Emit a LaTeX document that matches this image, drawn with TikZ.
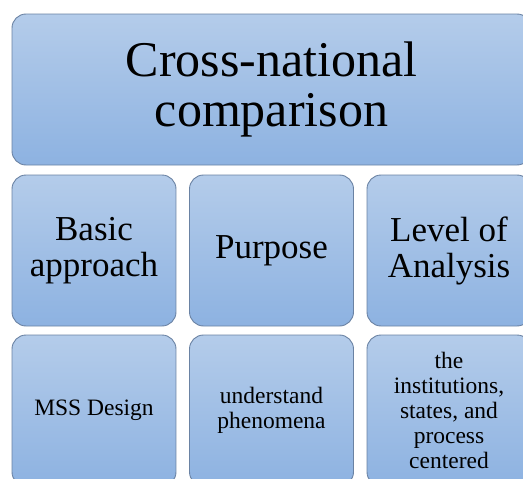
\documentclass[tikz,border=0pt]{standalone}
\usepackage{fontspec}
\setmainfont{Liberation Serif}
\newfontfamily\tilefont{Liberation Serif}
\usetikzlibrary{positioning}
\definecolor{tiletop}{HTML}{B4CCEA}
\definecolor{tilebot}{HTML}{8DB2E1}
\definecolor{tileedge}{HTML}{6A82A3}
\tikzset{
  tile/.style={draw=tileedge, line width=0.9pt, top color=tiletop, bottom color=tilebot,
               rounded corners=14pt, align=center, inner sep=0pt, minimum height=151pt},
  headtile/.style={tile, minimum width=519pt, font=\tilefont\fontsize{50}{50}\selectfont},
  cattile/.style={tile, minimum width=164pt, font=\tilefont\fontsize{35}{36}\selectfont},
  itemtile/.style={tile, minimum width=164pt, font=\tilefont\fontsize{23.5}{25}\selectfont}}

\begin{document}
\begin{tikzpicture}[x=1pt,y=-1pt]
  \useasboundingbox (0,0) rectangle (523,479);
  \clip (0,0) rectangle (523,479);
  % top banner
  \node[headtile] (head) at (271.5,89.5) {Cross-national\\comparison};
  % categories
  \node[cattile] (basic) at (94,250.5) {Basic\\approach};
  \node[cattile] (purp) at (271.5,250.5) {Purpose};
  \node[cattile] (level) at (449,250.5) {Level of\\Analysis};
  % entries under each category
  \node[itemtile] (mss) at (94,410.5) {MSS Design};
  \node[itemtile] (under) at (271.5,410.5) {understand\\phenomena};
  \node[itemtile] (inst) at (449,410.5) {the\\institutions,\\states, and\\process\\centered};
\end{tikzpicture}
\end{document}
